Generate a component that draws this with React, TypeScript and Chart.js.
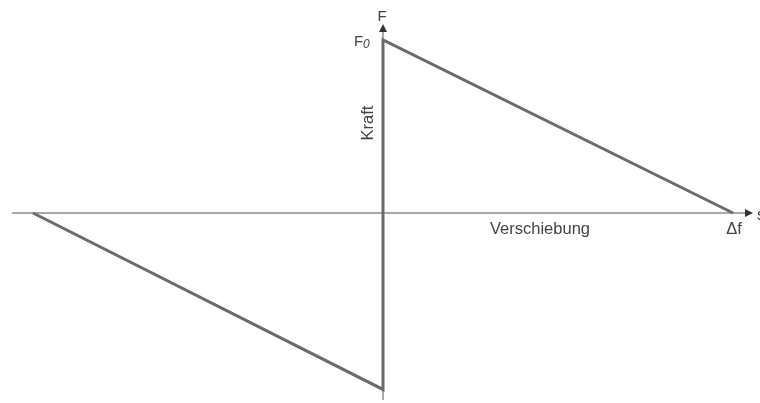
import React, { useEffect, useRef } from "react";
import { Chart, registerables } from "chart.js";

Chart.register(...registerables);

// Displacement (x) and force (y) of the hysteresis-like path
const displacement = [-1, 0, 0, 1];
const force = [0, -1.02, 1, 0];

const xRange = { min: -1.0943, max: 1.0771 };
const yRange = { min: -1.0983, max: 1.2312 };

const labels = {
  yAxis: "F",
  yPeak: "F",
  yPeakSub: "0",
  yTitle: "Kraft",
  xTitle: "Verschiebung",
  xEnd: "Δf",
  xAxis: "s",
};

const FONT = '"Liberation Sans", Arial, sans-serif';

const axesPlugin = {
  id: "customAxes",
  beforeDatasetsDraw(chart: any) {
    const { ctx } = chart;
    const xs = chart.scales.x;
    const ys = chart.scales.y;
    const x0 = xs.getPixelForValue(0);
    const y0 = ys.getPixelForValue(0);
    ctx.save();
    ctx.strokeStyle = "#8c8c8c";
    ctx.lineWidth = 1.5;
    ctx.beginPath();
    ctx.moveTo(12, y0);
    ctx.lineTo(748, y0);
    ctx.moveTo(x0, 400);
    ctx.lineTo(x0, 28);
    ctx.stroke();
    ctx.fillStyle = "#333";
    // right arrow
    ctx.beginPath();
    ctx.moveTo(753, y0);
    ctx.lineTo(745, y0 - 4);
    ctx.lineTo(745, y0 + 4);
    ctx.closePath();
    ctx.fill();
    // top arrow
    ctx.beginPath();
    ctx.moveTo(x0, 24);
    ctx.lineTo(x0 - 4, 32);
    ctx.lineTo(x0 + 4, 32);
    ctx.closePath();
    ctx.fill();
    ctx.restore();
  },
  afterDatasetsDraw(chart: any) {
    const { ctx } = chart;
    const xs = chart.scales.x;
    const ys = chart.scales.y;
    const x0 = xs.getPixelForValue(0);
    const y0 = ys.getPixelForValue(0);
    const yTop = ys.getPixelForValue(force[2]);
    const xEnd = xs.getPixelForValue(displacement[3]);
    ctx.save();
    ctx.fillStyle = "#444";
    ctx.textBaseline = "middle";
    ctx.font = `15px ${FONT}`;
    ctx.textAlign = "center";
    ctx.fillText(labels.yAxis, x0 - 1, 17);
    // F0
    ctx.textAlign = "left";
    ctx.fillText(labels.yPeak, 354, yTop + 2);
    ctx.font = `italic 12px ${FONT}`;
    ctx.fillText(labels.yPeakSub, 363, yTop + 5);
    // Kraft rotated
    ctx.font = `16.5px ${FONT}`;
    ctx.save();
    ctx.translate(368, 123);
    ctx.rotate(-Math.PI / 2);
    ctx.textAlign = "center";
    ctx.fillText(labels.yTitle, 0, 0);
    ctx.restore();
    ctx.textAlign = "center";
    ctx.fillText(labels.xTitle, 540, y0 + 16);
    ctx.fillText(labels.xEnd, xEnd + 1, y0 + 16);
    ctx.textAlign = "left";
    ctx.fillText(labels.xAxis, 757, y0 + 2);
    ctx.restore();
  },
};

export default function App() {
  const ref = useRef<HTMLCanvasElement>(null);
  useEffect(() => {
    const chart = new Chart(ref.current!, {
      type: "line",
      data: {
        datasets: [
          {
            data: displacement.map((x, i) => ({ x, y: force[i] })),
            borderColor: "#6b6b6b",
            borderWidth: 3,
            pointRadius: 0,
            fill: false,
            tension: 0,
          },
        ],
      },
      options: {
        animation: false,
        responsive: false,
        maintainAspectRatio: false,
        layout: { padding: 0 },
        plugins: { legend: { display: false }, tooltip: { enabled: false } },
        scales: {
          x: { type: "linear", display: false, min: xRange.min, max: xRange.max },
          y: { type: "linear", display: false, min: yRange.min, max: yRange.max },
        },
      },
      plugins: [axesPlugin],
    });
    return () => chart.destroy();
  }, []);
  return (
    <div style={{ position: "fixed", left: 0, top: 0, width: 760, height: 403, background: "#fff" }}>
      <canvas ref={ref} width={760} height={403} />
    </div>
  );
}
